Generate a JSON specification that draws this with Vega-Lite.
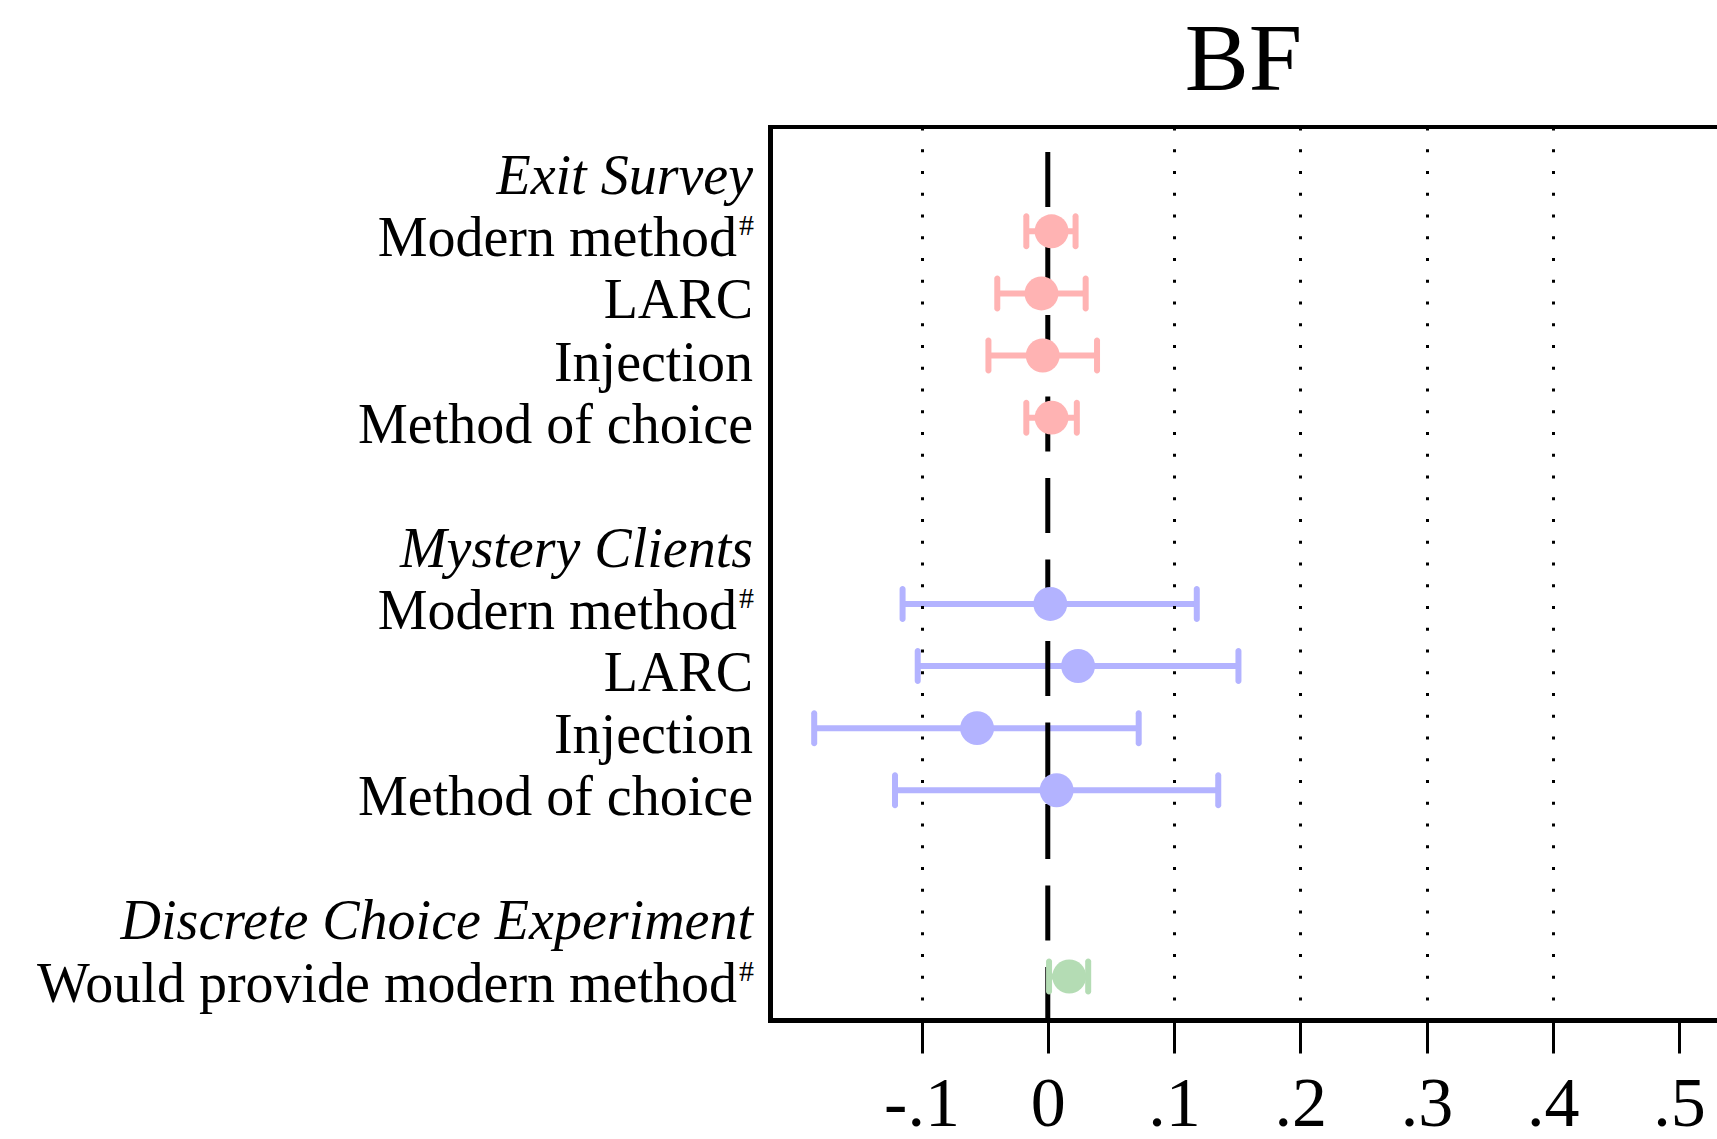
{
  "$schema": "https://vega.github.io/schema/vega-lite/v6.json",
  "width": 947,
  "height": 893,
  "autosize": "none",
  "padding": {"left": 770, "top": 127, "right": 0, "bottom": 119},
  "background": "white",
  "view": {"stroke": null},
  "config": {"font": "Liberation Serif"},
  "data": {"values": [
    {"row": 0, "label": "Exit Survey", "kind": "header", "section": "Exit Survey"},
    {"row": 1, "label": "Modern method", "kind": "sup", "sup": "#", "section": "Exit Survey", "est": 0.003, "lo": -0.017, "hi": 0.022},
    {"row": 2, "label": "LARC", "kind": "item", "section": "Exit Survey", "est": -0.005, "lo": -0.040, "hi": 0.030},
    {"row": 3, "label": "Injection", "kind": "item", "section": "Exit Survey", "est": -0.004, "lo": -0.047, "hi": 0.039},
    {"row": 4, "label": "Method of choice", "kind": "item", "section": "Exit Survey", "est": 0.003, "lo": -0.017, "hi": 0.023},
    {"row": 6, "label": "Mystery Clients", "kind": "header", "section": "Mystery Clients"},
    {"row": 7, "label": "Modern method", "kind": "sup", "sup": "#", "section": "Mystery Clients", "est": 0.002, "lo": -0.115, "hi": 0.118},
    {"row": 8, "label": "LARC", "kind": "item", "section": "Mystery Clients", "est": 0.024, "lo": -0.103, "hi": 0.151},
    {"row": 9, "label": "Injection", "kind": "item", "section": "Mystery Clients", "est": -0.056, "lo": -0.185, "hi": 0.072},
    {"row": 10, "label": "Method of choice", "kind": "item", "section": "Mystery Clients", "est": 0.007, "lo": -0.121, "hi": 0.135},
    {"row": 12, "label": "Discrete Choice Experiment", "kind": "header", "section": "Discrete Choice Experiment"},
    {"row": 13, "label": "Would provide modern method", "kind": "sup", "sup": "#", "section": "Discrete Choice Experiment", "est": 0.017, "lo": 0.001, "hi": 0.032}
  ]},
  "layer": [
    {
      "transform": [{"filter": "isValid(datum.est)"}],
      "mark": {"type": "rule", "strokeWidth": 6},
      "encoding": {
        "x": {"field": "lo", "type": "quantitative",
          "scale": {"domain": [-0.22, 0.53], "nice": false, "zero": false},
          "axis": {"orient": "bottom", "values": [-0.1, 0, 0.1, 0.2, 0.3, 0.4, 0.5], "title": null,
            "labelExpr": "datum.value == 0 ? '0' : replace(replace(format(datum.value, '.1f'), '\u2212', '-'), '0.', '.')",
            "labelFont": "Liberation Serif", "labelFontSize": 70, "labelColor": "black", "labelPadding": 17,
            "labelFlush": false, "labelOverlap": false,
            "tickSize": 33, "tickWidth": 3, "tickColor": "black",
            "domain": true, "domainWidth": 5, "domainColor": "black", "domainCap": "square",
            "grid": true, "gridColor": "black", "gridWidth": 3, "gridDash": [3, 18.75], "gridDashOffset": 1.75,
            "gridOpacity": {"condition": {"test": "datum.value == 0 || datum.value > 0.45", "value": 0}, "value": 1},
            "zindex": 1}},
        "x2": {"field": "hi"},
        "y": {"field": "row", "type": "quantitative",
          "scale": {"domain": [-0.68, 13.7], "reverse": true, "nice": false, "zero": false},
          "axis": {"orient": "left", "title": null, "labels": false, "ticks": false, "grid": false,
            "domain": true, "domainWidth": 5, "domainColor": "black", "domainCap": "square"}},
        "color": {"field": "section", "type": "nominal",
          "scale": {"domain": ["Exit Survey", "Mystery Clients", "Discrete Choice Experiment"], "range": ["#FFB3B3", "#B3B3FF", "#B4DCB4"]},
          "legend": null}
      }
    },
    {
      "data": {"values": [{}]},
      "mark": {"type": "rule", "strokeWidth": 5, "color": "black", "strokeDash": [55, 26.5], "strokeDashOffset": 56.5},
      "encoding": {"x": {"datum": 0, "type": "quantitative"}}
    },
    {
      "data": {"values": [{}]},
      "mark": {"type": "rule", "strokeWidth": 4, "color": "black", "strokeCap": "square"},
      "encoding": {"y": {"datum": -0.68, "type": "quantitative"}}
    },
    {
      "transform": [{"filter": "isValid(datum.est)"}],
      "mark": {"type": "tick", "orient": "vertical", "size": 36, "thickness": 6, "opacity": 1, "cornerRadius": 3},
      "encoding": {
        "x": {"field": "lo", "type": "quantitative"},
        "y": {"field": "row", "type": "quantitative"},
        "color": {"field": "section", "type": "nominal", "legend": null}
      }
    },
    {
      "transform": [{"filter": "isValid(datum.est)"}],
      "mark": {"type": "tick", "orient": "vertical", "size": 36, "thickness": 6, "opacity": 1, "cornerRadius": 3},
      "encoding": {
        "x": {"field": "hi", "type": "quantitative"},
        "y": {"field": "row", "type": "quantitative"},
        "color": {"field": "section", "type": "nominal", "legend": null}
      }
    },
    {
      "transform": [{"filter": "isValid(datum.est)"}],
      "mark": {"type": "point", "shape": "circle", "filled": true, "size": 1150, "opacity": 1, "strokeWidth": 0},
      "encoding": {
        "x": {"field": "est", "type": "quantitative"},
        "y": {"field": "row", "type": "quantitative"},
        "color": {"field": "section", "type": "nominal", "legend": null}
      }
    },
    {
      "transform": [{"filter": "datum.kind == 'header'"}],
      "mark": {"type": "text", "align": "right", "baseline": "alphabetic", "dx": -17, "dy": 25, "fontSize": 56, "fontStyle": "italic", "font": "Liberation Serif", "color": "black"},
      "encoding": {
        "x": {"datum": -0.22, "type": "quantitative"},
        "y": {"field": "row", "type": "quantitative"},
        "text": {"field": "label"}
      }
    },
    {
      "transform": [{"filter": "datum.kind == 'item'"}],
      "mark": {"type": "text", "align": "right", "baseline": "alphabetic", "dx": -17, "dy": 25, "fontSize": 56, "font": "Liberation Serif", "color": "black"},
      "encoding": {
        "x": {"datum": -0.22, "type": "quantitative"},
        "y": {"field": "row", "type": "quantitative"},
        "text": {"field": "label"}
      }
    },
    {
      "transform": [{"filter": "datum.kind == 'sup'"}],
      "mark": {"type": "text", "align": "right", "baseline": "alphabetic", "dx": -33, "dy": 25, "fontSize": 56, "font": "Liberation Serif", "color": "black"},
      "encoding": {
        "x": {"datum": -0.22, "type": "quantitative"},
        "y": {"field": "row", "type": "quantitative"},
        "text": {"field": "label"}
      }
    },
    {
      "transform": [{"filter": "datum.kind == 'sup'"}],
      "mark": {"type": "text", "align": "right", "baseline": "alphabetic", "dx": -16, "dy": 4, "fontSize": 30, "font": "Liberation Serif", "color": "black"},
      "encoding": {
        "x": {"datum": -0.22, "type": "quantitative"},
        "y": {"field": "row", "type": "quantitative"},
        "text": {"field": "sup"}
      }
    },
    {
      "data": {"values": [{"title": "BF"}]},
      "mark": {"type": "text", "align": "center", "baseline": "alphabetic", "fontSize": 96, "font": "Liberation Serif", "color": "black"},
      "encoding": {
        "x": {"datum": 0.155, "type": "quantitative"},
        "y": {"datum": -1.275, "type": "quantitative"},
        "text": {"field": "title"}
      }
    }
  ]
}
